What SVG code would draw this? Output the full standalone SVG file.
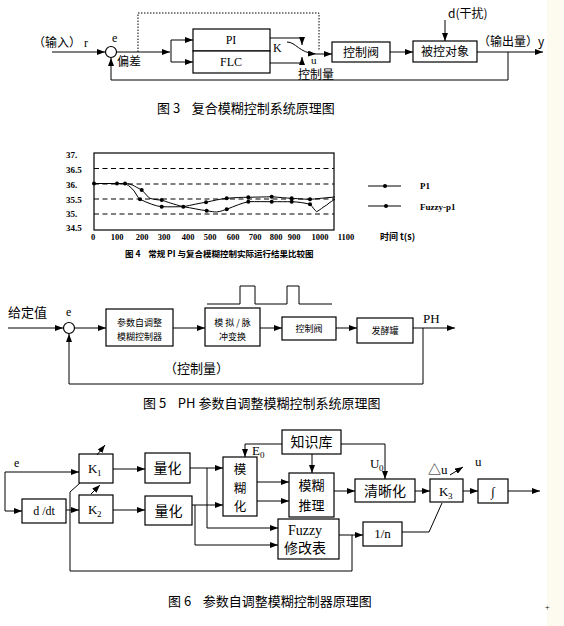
<svg xmlns="http://www.w3.org/2000/svg" width="564" height="626" viewBox="0 0 564 626">
<defs>
<marker id="ar" markerWidth="8" markerHeight="6" refX="8" refY="3" orient="auto" markerUnits="userSpaceOnUse"><path d="M0,0 L8,3 L0,6 z" fill="#000"/></marker>
<style>
.ln{stroke:#000;stroke-width:1;fill:none}
.bx{fill:#fff;stroke:#000;stroke-width:1.2}
.dot{stroke:#000;stroke-width:1;fill:none;stroke-dasharray:1.5 1.5}
.dsh{stroke:#000;stroke-width:1.2;fill:none;stroke-dasharray:5 3.5}
.cv{stroke:#000;stroke-width:1;fill:none}
.zh{font-family:"Noto Sans CJK SC","Noto Sans",sans-serif;fill:#000}
.en{font-family:"Liberation Serif","Noto Sans CJK SC",serif;fill:#000}
.t12{font-size:12px}
.t13{font-size:13px}
.t14{font-size:14px}
.t9{font-size:9px}
.mid{text-anchor:middle}
.pre{white-space:pre}
</style>
</defs>
<rect width="564" height="626" fill="#fff"/>
<rect x="547" y="0" width="17" height="626" fill="#fdfbef"/>

<!-- ========== Figure 3 ========== -->
<g id="fig3-circle"><circle cx="111" cy="52" r="5.5" class="bx"/></g>
<g id="fig3-pi"><rect x="193" y="29" width="77" height="22" class="bx"/><text x="231" y="44" class="en t12 mid">PI</text></g>
<g id="fig3-flc"><rect x="193" y="51" width="77" height="22" class="bx"/><text x="231" y="66" class="en t12 mid">FLC</text></g>
<g id="fig3-valve"><rect x="332" y="42" width="58" height="20" class="bx"/><text x="361" y="57" class="zh t12 mid">控制阀</text></g>
<g id="fig3-plant"><rect x="413" y="41" width="64" height="21" class="bx"/><text x="445" y="56" class="zh t12 mid">被控对象</text></g>
<g id="fig3-connectors">
<path d="M52,52 H105" class="ln" marker-end="url(#ar)"/>
<path d="M117,52 H170" class="ln" marker-end="url(#ar)"/>
<path d="M171,40 V62" class="ln"/>
<path d="M171,40 H193" class="ln" marker-end="url(#ar)"/>
<path d="M171,62 H193" class="ln" marker-end="url(#ar)"/>
<path d="M270,38 H302 V45" class="ln" marker-end="url(#ar)"/>
<path d="M270,63 H302 V57" class="ln" marker-end="url(#ar)"/>
<path d="M287,42 C296,42 299,53 316,54" class="ln" marker-end="url(#ar)"/>
<path d="M316,54 H332" class="ln" marker-end="url(#ar)"/>
<path d="M138,52 V13 H319 V51" class="dot"/>
<path d="M390,52 H413" class="ln" marker-end="url(#ar)"/>
<path d="M445,20 V41" class="ln" marker-end="url(#ar)"/>
<path d="M477,52 H543" class="ln" marker-end="url(#ar)"/>
<path d="M508,52 V80 H111 V58" class="ln" marker-end="url(#ar)"/>
</g>
<g id="fig3-labels">
<text x="33" y="47" class="zh t12">（输入）</text>
<text x="84" y="47" class="en t12">r</text>
<text x="112" y="42" class="en t12">e</text>
<text x="117" y="66" class="zh t12">偏差</text>
<text x="273" y="52" class="en t12">K</text>
<text x="311" y="64" class="en" font-size="11">u</text>
<text x="298" y="79" class="zh t12">控制量</text>
<text x="448" y="18" class="zh t12">d(干扰)</text>
<text x="478" y="46" class="zh t12">（输出量）y</text>
<text x="157" y="113" class="zh t13 pre">图 3    复合模糊控制系统原理图</text>
</g>

<!-- ========== Figure 4 (chart) ========== -->
<g id="fig4-chart">
<path d="M94,168.5 H334 M94,184 H334 M94,199 H334 M94,214 H334" class="dsh"/>
<rect x="94" y="153" width="240" height="77" fill="none" stroke="#000" stroke-width="1.2"/>
<path d="M94,183.5 H125 C131,183.5 134,186 141.7,190 C146,194 148,197.5 150,198.3 C154,199.5 158,200 161.7,200 C167,202 173,204 183.3,206.7 C192,205 200,203 206,202.3 C214,200.5 220,199 226.7,198.3 C236,197.5 242,197.3 248.3,197.3 C258,197 265,197 271.7,196.7 C280,197.5 286,198 291.7,198.3 C300,198.8 305,199.3 310,199.3 C316,199 320,198.3 326,197.8 L335,197" class="cv"/>
<path d="M125,183.5 C130,186 134,190 136,194 C138,197 139,199 140,199.3 C148,203 155,206 161.7,206.7 C170,207 176,206.7 183.3,206.7 C192,208 200,210 206.7,210.7 C211,211.5 214,212 216.7,212 C221,211.5 224,210 226.7,209.3 C235,206 242,203 248.3,201.7 C257,201.5 264,201.7 271.7,201.7 C280,201.7 286,201.7 291.7,201.7 C299,202 305,203 310,204.3 C313,207 315,211 316.7,211.7 C320,210 323,207 326.7,205 C330,202 333,200.5 335,199.3" class="cv"/>
<g fill="#000">
<circle cx="94" cy="183.5" r="2"/><circle cx="117" cy="183.5" r="2"/><circle cx="125" cy="183.5" r="2"/>
<circle cx="141.7" cy="190" r="2"/><circle cx="140" cy="199.3" r="2"/><circle cx="161.7" cy="200" r="2"/><circle cx="161.7" cy="206.7" r="2"/>
<circle cx="183.3" cy="206.7" r="2"/><circle cx="206" cy="202.3" r="2"/><circle cx="206.7" cy="210.7" r="2"/>
<circle cx="226.7" cy="198.3" r="2"/><circle cx="226.7" cy="209.3" r="2"/><circle cx="248.3" cy="197.3" r="2"/><circle cx="248.3" cy="201.7" r="2"/>
<circle cx="271.7" cy="196.7" r="2"/><circle cx="271.7" cy="201.7" r="2"/><circle cx="291.7" cy="198.3" r="2"/><circle cx="291.7" cy="201.7" r="2"/>
<circle cx="310" cy="199.3" r="2"/><circle cx="310" cy="204.3" r="2"/>
</g>
<g class="en t9" font-weight="bold">
<text x="66" y="158">37.</text><text x="66" y="173">36.5</text><text x="66" y="188">36.</text><text x="66" y="203">35.5</text><text x="66" y="217">35.</text><text x="66" y="231">34.5</text>
</g>
<g class="en mid" font-size="8.5" font-weight="bold">
<text x="93" y="240">0</text><text x="117" y="240">100</text><text x="142" y="240">200</text><text x="164" y="240">300</text><text x="188" y="240">400</text><text x="210" y="240">500</text><text x="233" y="240">600</text><text x="255" y="240">700</text><text x="276" y="240">800</text><text x="294" y="240">900</text><text x="320" y="240">1000</text><text x="346" y="240">1100</text>
</g>
<text x="380" y="240" class="zh t9" font-weight="bold">时间 t(s)</text>
<path d="M368,186 H401 M368,206 H401" class="ln"/>
<circle cx="385" cy="186" r="2" fill="#000"/><circle cx="386" cy="206" r="2" fill="#000"/>
<text x="420" y="189" class="en t9" font-weight="bold">P1</text>
<text x="420" y="210" class="en t9" font-weight="bold">Fuzzy-p1</text>
<text x="125" y="257" class="zh pre" font-size="8.5" font-weight="bold">图 4    常规 PI 与复合模糊控制实际运行结果比较图</text>
</g>

<!-- ========== Figure 5 ========== -->
<g id="fig5-circle"><circle cx="69" cy="328" r="5.5" class="bx"/></g>
<g id="fig5-controller"><rect x="106" y="309" width="67" height="37" class="bx"/><text x="139.5" y="326" class="zh t9 mid">参数自调整</text><text x="139.5" y="340" class="zh t9 mid">模糊控制器</text></g>
<g id="fig5-converter"><rect x="205" y="308" width="55" height="38" class="bx"/><text x="232.5" y="326" class="zh t9 mid pre">模 拟 / 脉</text><text x="232.5" y="340" class="zh t9 mid">冲变换</text></g>
<g id="fig5-valve"><rect x="282" y="317" width="54" height="23" class="bx"/><text x="309" y="332" class="zh t9 mid">控制阀</text></g>
<g id="fig5-tank"><rect x="357" y="318" width="56" height="25" class="bx"/><text x="385" y="334" class="zh t9 mid">发酵罐</text></g>
<g id="fig5-connectors">
<path d="M8,328 H63" class="ln" marker-end="url(#ar)"/>
<path d="M75,328 H106" class="ln" marker-end="url(#ar)"/>
<path d="M173,328 H205" class="ln" marker-end="url(#ar)"/>
<path d="M260,328 H282" class="ln" marker-end="url(#ar)"/>
<path d="M336,328 H357" class="ln" marker-end="url(#ar)"/>
<path d="M413,328 H455" class="ln" marker-end="url(#ar)"/>
<path d="M423,328 V384 H69 V334" class="ln" marker-end="url(#ar)"/>
<path d="M207,304 H240 V286 H255 V304 H287 V286 H299 V304 H332" class="ln"/>
</g>
<g id="fig5-labels">
<text x="8" y="317" class="zh t13">给定值</text>
<text x="66" y="316" class="en t12">e</text>
<text x="423" y="323" class="en t13">PH</text>
<text x="164" y="373" class="zh t13">（控制量）</text>
<text x="143" y="408" class="zh t13 pre">图 5    PH 参数自调整模糊控制系统原理图</text>
</g>

<!-- ========== Figure 6 ========== -->
<g id="fig6-ddt"><rect x="22" y="499" width="44" height="24" class="bx"/><text x="44" y="515" class="en t12 mid pre">d /dt</text></g>
<g id="fig6-k1"><rect x="79" y="454" width="34" height="29" class="bx"/><text x="88" y="473" class="en t13">K</text><text x="97" y="476" class="en" font-size="9">1</text></g>
<g id="fig6-k2"><rect x="79" y="495" width="34" height="28" class="bx"/><text x="88" y="514" class="en t13">K</text><text x="97" y="517" class="en" font-size="9">2</text></g>
<g id="fig6-q1"><rect x="145" y="453" width="45" height="30" class="bx"/><text x="167.5" y="473" class="zh t14 mid">量化</text></g>
<g id="fig6-q2"><rect x="145" y="496" width="47" height="29" class="bx"/><text x="168.5" y="516" class="zh t14 mid">量化</text></g>
<g id="fig6-fuzzify"><rect x="223" y="457" width="34" height="59" class="bx"/><text x="240" y="474" class="zh mid" font-size="12.5">模</text><text x="240" y="492.5" class="zh mid" font-size="12.5">糊</text><text x="240" y="511" class="zh mid" font-size="12.5">化</text></g>
<g id="fig6-kb"><rect x="282" y="430" width="59" height="24" class="bx"/><text x="311.5" y="447" class="zh t14 mid">知识库</text></g>
<g id="fig6-infer"><rect x="289" y="473" width="45" height="44" class="bx"/><text x="311.5" y="490" class="zh t13 mid">模糊</text><text x="311.5" y="510" class="zh t13 mid">推理</text></g>
<g id="fig6-defuzz"><rect x="355" y="479" width="60" height="23" class="bx"/><text x="385" y="496" class="zh t14 mid">清晰化</text></g>
<g id="fig6-k3"><rect x="430" y="479" width="33" height="23" class="bx"/><text x="439" y="496" class="en t13">K</text><text x="448" y="499" class="en" font-size="9">3</text></g>
<g id="fig6-int"><rect x="478" y="479" width="30" height="24" class="bx"/><text x="493" y="496" class="en t13 mid">∫</text></g>
<g id="fig6-fuzzytable"><rect x="278" y="519" width="61" height="40" class="bx"/><text x="305" y="535" class="en t14 mid">Fuzzy</text><text x="305" y="553" class="zh t14 mid">修改表</text></g>
<g id="fig6-inv"><rect x="363" y="522" width="39" height="24" class="bx"/><text x="382.5" y="538" class="en t13 mid">1/n</text></g>
<g id="fig6-connectors">
<path d="M5,472 H79" class="ln" marker-end="url(#ar)"/>
<path d="M5,472 V511 H22" class="ln" marker-end="url(#ar)"/>
<path d="M66,510 H79" class="ln" marker-end="url(#ar)"/>
<path d="M97,455 L105,445" class="ln" marker-end="url(#ar)"/>
<path d="M91,494 L100,485" class="ln" marker-end="url(#ar)"/>
<path d="M113,469 H145" class="ln" marker-end="url(#ar)"/>
<path d="M113,510 H145" class="ln" marker-end="url(#ar)"/>
<path d="M190,468 H223" class="ln" marker-end="url(#ar)"/>
<path d="M207,468 V528 H278" class="ln" marker-end="url(#ar)"/>
<path d="M192,505 H223" class="ln" marker-end="url(#ar)"/>
<path d="M195,505 V545 H278" class="ln" marker-end="url(#ar)"/>
<path d="M257,482 H289" class="ln" marker-end="url(#ar)"/>
<path d="M257,501 H289" class="ln" marker-end="url(#ar)"/>
<path d="M282,444 H245 V457" class="ln" marker-end="url(#ar)"/>
<path d="M312,454 V473" class="ln" marker-end="url(#ar)"/>
<path d="M341,444 H385 V479" class="ln" marker-end="url(#ar)"/>
<path d="M334,491 H355" class="ln" marker-end="url(#ar)"/>
<path d="M415,491 H430" class="ln" marker-end="url(#ar)"/>
<path d="M450,475 L463,467" class="ln" marker-end="url(#ar)"/>
<path d="M463,491 H478" class="ln" marker-end="url(#ar)"/>
<path d="M508,491 H540" class="ln" marker-end="url(#ar)"/>
<path d="M339,535 H363" class="ln" marker-end="url(#ar)"/>
<path d="M402,532 H429 L442,503" class="ln"/>
<path d="M352,535 V571 H70 V492 L80,483" class="ln"/>
</g>
<g id="fig6-labels">
<text x="14" y="467" class="en t12">e</text>
<text x="252" y="455" class="en t13">E</text><text x="260" y="458" class="en" font-size="9">0</text>
<text x="370" y="468" class="en t13">U</text><text x="379" y="471" class="en" font-size="9">0</text>
<text x="428" y="474" class="en t13">△u</text>
<text x="475" y="466" class="en t13">u</text>
<text x="168" y="606" class="zh t13 pre">图 6    参数自调整模糊控制器原理图</text>
<text x="545" y="610" class="en" font-size="8">+</text>
</g>
</svg>
